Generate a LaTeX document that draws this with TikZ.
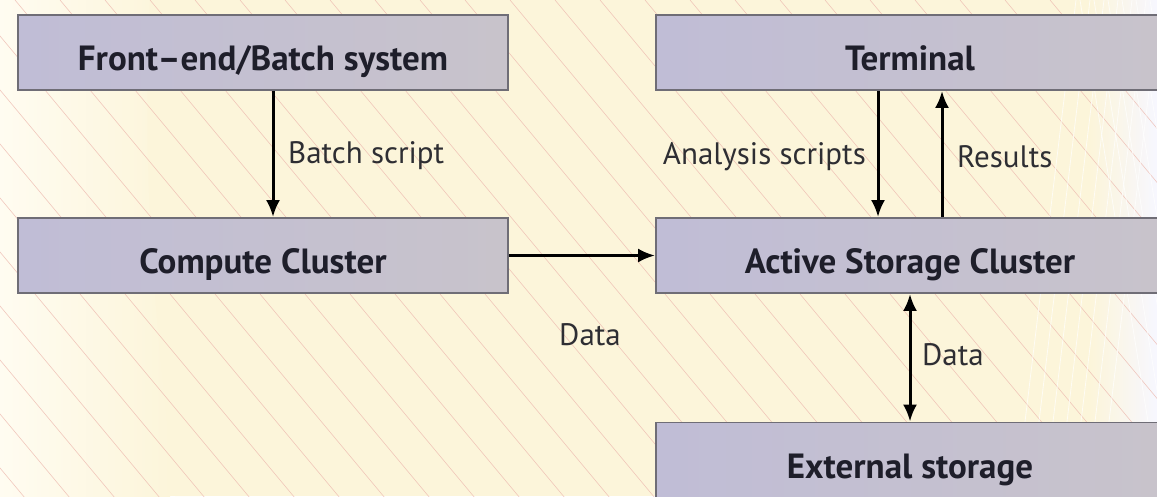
\documentclass[tikz,border=0pt]{standalone}
\usepackage{fontspec}
\setmainfont{PT Sans}
\usetikzlibrary{arrows.meta}
\definecolor{bgcream}{HTML}{FCF5DA}
\definecolor{bglight}{HTML}{FFFCF1}
\definecolor{hatch}{HTML}{EDB8AE}
\definecolor{boxL}{HTML}{C0BDD6}
\definecolor{boxR}{HTML}{C8C3CB}
\definecolor{boxedge}{HTML}{6F6D76}
\definecolor{txt}{HTML}{1E1E2A}
\definecolor{lbl}{HTML}{2E2E33}
\tikzset{
  blk/.style={draw=boxedge, line width=1.8pt, left color=boxL, right color=boxR,
    minimum height=75pt, inner sep=0pt, text height=36pt, text depth=0pt,
    text=txt, font=\fontsize{35}{40}\selectfont\bfseries},
  conn/.style={line width=3pt, -{Latex[length=17pt,width=14pt]}},
  conn2/.style={line width=3pt, {Latex[length=17pt,width=14pt]}-{Latex[length=17pt,width=14pt]}},
  lab/.style={text=lbl, font=\fontsize{31}{34}\selectfont, inner sep=0pt}
}
\begin{document}
\begin{tikzpicture}[x=1pt,y=-1pt]
\useasboundingbox (0,0) rectangle (1157,496);
\clip (0,0) rectangle (1157,496);
% background
\fill[bgcream] (0,0) rectangle (1157,496);
\shade[left color=bglight, right color=bgcream] (0,0) rectangle (170,496);
\fill[bgcream] (150,0) .. controls (140,200) and (160,350) .. (175,496) -- (200,496) -- (200,0) -- cycle;
\shade[left color=bgcream, right color=white!60!blue!8] (1090,0) rectangle (1157,496);
\foreach \i in {-20,...,30} {
  \draw[hatch, line width=0.6pt, opacity=0.75] (\i*45-300,0) -- ++(600,720);
}
\foreach \i in {0,...,6} {
  \draw[white, line width=0.8pt, opacity=0.7] (1080+\i*14,0) -- ++(80,496);
  \draw[white, line width=0.8pt, opacity=0.7] (1160-\i*14,0) -- ++(-60,496);
}
% boxes
\node[blk, minimum width=490pt] (fe) at (263,52.5) {Front–end/Batch system};
\node[blk, minimum width=490pt] (cc) at (263,255.5) {Compute Cluster};
\node[blk, minimum width=508pt] (term) at (910,52.5) {Terminal};
\node[blk, minimum width=508pt] (asc) at (910,255.5) {Active Storage Cluster};
\node[blk, minimum width=508pt] (ext) at (910,460) {External storage};
% connectors
\draw[conn] ([xshift=10pt]fe.south) -- ([xshift=10pt]cc.north);
\draw[conn] ([xshift=-32pt]term.south) -- ([xshift=-32pt]asc.north);
\draw[conn] ([xshift=32pt]asc.north) -- ([xshift=32pt]term.south);
\draw[conn] (cc.east) -- (asc.west);
\draw[conn2] (asc.south) -- (ext.north);
% labels
\node[lab, anchor=west] (l1) at (288,156) {Batch script};
\node[lab, anchor=east] (l2) at (866,157) {Analysis scripts};
\node[lab, anchor=west] (l3) at (957,157) {Results};
\node[lab] (l4) at (590,335) {Data};
\node[lab, anchor=west] (l5) at (922,355) {Data};
\end{tikzpicture}
\end{document}
